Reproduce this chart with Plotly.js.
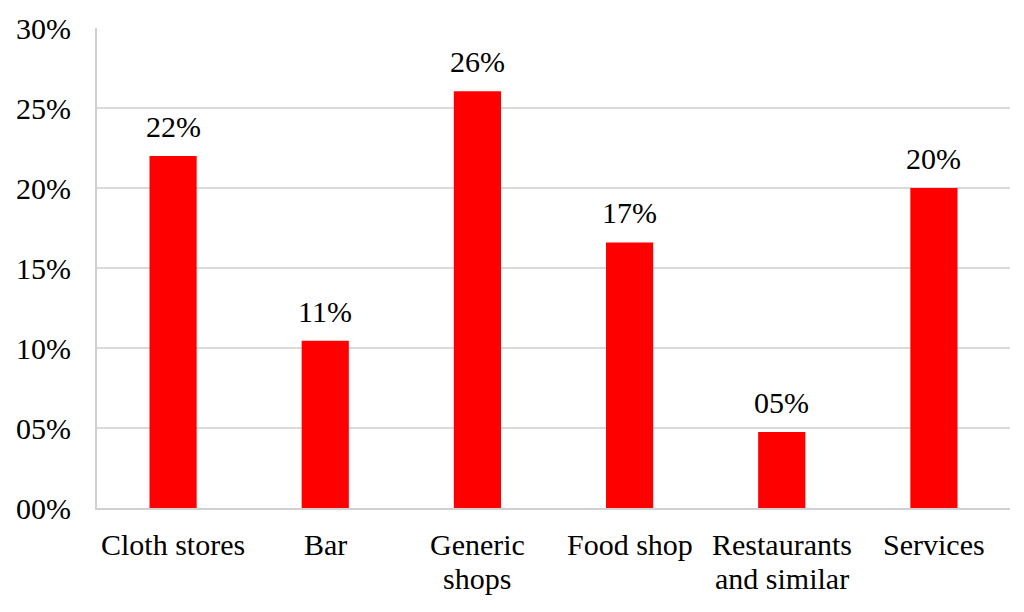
<!DOCTYPE html>
<html>
<head>
<meta charset="utf-8">
<script src="https://cdn.plot.ly/plotly-3.0.1.min.js"></script>
<style>html,body{margin:0;padding:0;background:#fff;}#chart{width:1024px;height:612px;}</style>
</head>
<body>
<div id="chart"></div>
<script>
var categories = ["Cloth stores", "Bar", "Generic<br>shops", "Food shop", "Restaurants<br>and similar", "Services"];
var values = [22.0, 10.45, 26.05, 16.6, 4.75, 20.0];
var valueLabels = ["22%", "11%", "26%", "17%", "05%", "20%"];
var tickValues = [0, 5, 10, 15, 20, 25, 30];
var tickLabels = ["00%", "05%", "10%", "15%", "20%", "25%", "30%"];

var font = "Liberation Serif, Times New Roman, serif";
var fs = 30;

var trace = {
  type: "bar",
  x: categories,
  y: values,
  marker: {color: "#ff0000"},
  hoverinfo: "none"
};

var annotations = categories.map(function(c, i) {
  return {
    x: c, y: values[i], text: valueLabels[i],
    xref: "x", yref: "y", showarrow: false,
    yanchor: "bottom", yshift: 11,
    font: {family: font, size: fs, color: "#000"}
  };
});

// category labels with tight line spacing
categories.forEach(function(c) {
  c.split("<br>").forEach(function(line, j) {
    annotations.push({
      x: c, y: 0, text: line,
      xref: "x", yref: "paper", showarrow: false,
      yanchor: "top", yshift: -18 - j * 34,
      font: {family: font, size: fs, color: "#000"}
    });
  });
});

var layout = {
  width: 1024, height: 612,
  margin: {l: 97, r: 14, t: 28, b: 104},
  paper_bgcolor: "#fff", plot_bgcolor: "#fff",
  bargap: 0.69,
  showlegend: false,
  xaxis: {
    type: "category",
    showgrid: false,
    showline: true, linecolor: "#d0d0d0", linewidth: 2,
    ticks: "",
    showticklabels: false
  },
  yaxis: {
    range: [0, 30],
    tickvals: tickValues,
    ticktext: tickLabels,
    showgrid: true, gridcolor: "#d9d9d9", gridwidth: 1.5,
    showline: true, linecolor: "#d0d0d0", linewidth: 2,
    zeroline: false,
    ticks: "",
    ticklabelstandoff: 18,
    tickfont: {family: font, size: fs, color: "#000"}
  },
  annotations: annotations
};

Plotly.newPlot("chart", [trace], layout, {displayModeBar: false, staticPlot: true});
</script>
</body>
</html>
